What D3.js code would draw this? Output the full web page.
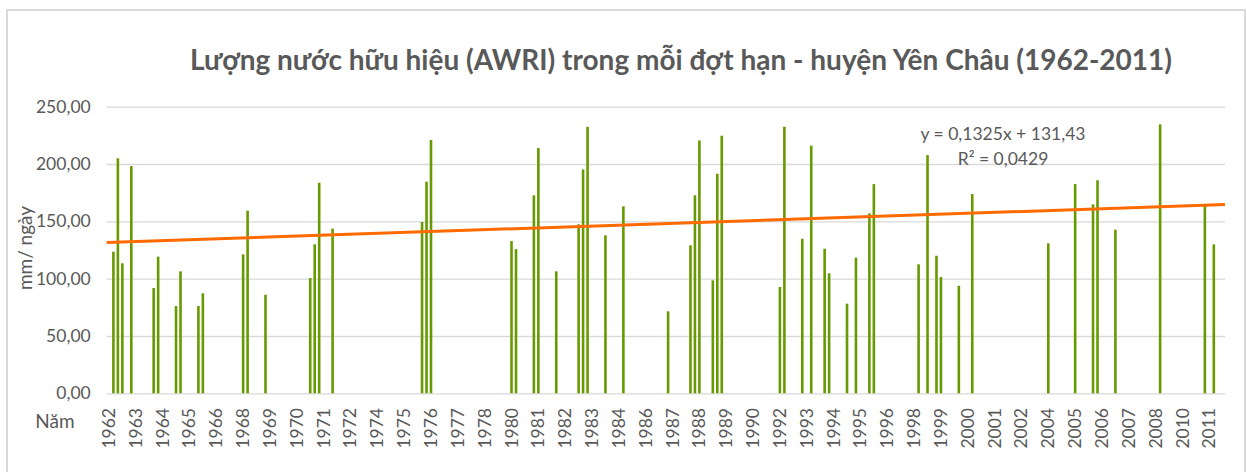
<!DOCTYPE html>
<html>
<head>
<meta charset="utf-8">
<script src="https://cdn.jsdelivr.net/npm/d3@7"></script>
<style>
  body { margin: 0; background: #fff; }
  text { font-family: Lato, "Open Sans", sans-serif; fill: #595959; }
</style>
</head>
<body>
<div id="chart"></div>
<script>
// x labels shown on the category axis (every 6th event)
var tickLabels = ["1962","1963","1964","1965","1966","1968","1969","1970","1971","1972",
  "1974","1975","1976","1977","1978","1980","1981","1982","1983","1984",
  "1986","1987","1988","1989","1990","1992","1993","1994","1995","1996",
  "1998","1999","2000","2001","2002","2004","2005","2006","2007","2008",
  "2010","2011"];
var categoryCount = 250;
var labelStep = 6;

// drought events: category number and AWRI value (mm/ngày)
var eventIndex = [2,3,4,6,11,12,16,17,21,22,31,32,36,46,47,48,51,71,72,73,
  91,92,96,97,101,106,107,108,112,116,126,131,132,133,136,137,138,151,152,156,
  158,161,162,166,168,171,172,182,184,186,187,191,194,211,217,221,222,226,236,246,248];
var awri = [123.5,205,113.4,198.2,91.8,119.2,76.1,106.4,76.1,87.2,121.2,159.3,86,100.5,130,183.7,143.6,149.4,184.6,220.9,
  132.8,125.8,172.7,213.9,106.4,147.4,195.3,232.5,137.8,163.1,71.5,129.1,172.7,220.6,98.5,191.5,224.7,92.7,232.5,134.8,
  216,126.1,104.6,78.2,118.3,157,182.5,112.5,207.8,120,101.4,93.8,173.8,130.8,182.5,164.8,185.8,142.7,234.6,163.6,129.9];

var yTicks = [0, 50, 100, 150, 200, 250];
var trendSlope = 0.1325, trendIntercept = 131.43;

var width = 1247, height = 472;
var svg = d3.select("#chart").append("svg")
  .attr("width", width)
  .attr("height", height);

// chart frame
svg.append("rect")
  .attr("x", 7).attr("y", 10)
  .attr("width", 1238).attr("height", 470)
  .attr("fill", "#fff")
  .attr("stroke", "#d9d9d9")
  .attr("stroke-width", 2);

var plotLeft = 106.7, plotRight = 1225, plotTop = 106.7, plotBottom = 393.3;

var categories = d3.range(1, categoryCount + 1);
var x = d3.scaleBand().domain(categories).range([plotLeft, plotRight]);
var xl = d3.scaleLinear().domain([0.5, categoryCount + 0.5]).range([plotLeft, plotRight]);
var y = d3.scaleLinear().domain([0, 250]).range([plotBottom, plotTop]);

// gridlines + y labels
var yAxis = d3.axisLeft(y)
  .tickValues(yTicks)
  .tickSize(-(plotRight - plotLeft))
  .tickPadding(16)
  .tickFormat(function(d) { return d3.format(".2f")(d).replace(".", ","); });

var gy = svg.append("g")
  .attr("transform", "translate(" + plotLeft + ",0)")
  .call(yAxis);
gy.select(".domain").remove();
gy.selectAll(".tick line").attr("stroke", "#d9d9d9").attr("stroke-width", 1.3);
gy.selectAll(".tick text").style("font-size", "17.5px").attr("fill", "#595959");

// x labels
var shown = tickLabels.map(function(t, k) { return { cat: 1 + k * labelStep, label: t }; });
svg.selectAll(".xlab")
  .data(shown)
  .enter().append("text")
  .attr("class", "xlab")
  .attr("transform", function(d) {
    return "translate(" + (x(d.cat) + x.bandwidth() / 2 + 6) + ",408) rotate(-90)";
  })
  .attr("text-anchor", "end")
  .style("font-size", "17.5px")
  .text(function(d) { return d.label; });

// bars
var events = eventIndex.map(function(c, k) { return { cat: c, v: awri[k] }; });
var barW = 2.6;
svg.selectAll(".bar")
  .data(events)
  .enter().append("rect")
  .attr("class", "bar")
  .attr("x", function(d) { return x(d.cat) + x.bandwidth() / 2 - barW / 2; })
  .attr("y", function(d) { return y(d.v); })
  .attr("width", barW)
  .attr("height", function(d) { return y(0) - y(d.v); })
  .attr("fill", "#679a00");

// linear trendline
var trendPts = [0.5, categoryCount + 0.5];
svg.append("path")
  .datum(trendPts)
  .attr("d", d3.line()
    .x(function(d) { return xl(d); })
    .y(function(d) { return y(trendIntercept + trendSlope * d); }))
  .attr("stroke", "#ff6a00")
  .attr("stroke-width", 3)
  .attr("fill", "none");

// equation
svg.append("text")
  .attr("x", 1003).attr("y", 140)
  .attr("text-anchor", "middle")
  .style("font-size", "17.5px")
  .text("y = 0,1325x + 131,43");
svg.append("text")
  .attr("x", 1003).attr("y", 165)
  .attr("text-anchor", "middle")
  .style("font-size", "17.5px")
  .text("R² = 0,0429");

// title
svg.append("text")
  .attr("x", 681).attr("y", 70)
  .attr("text-anchor", "middle")
  .style("font-size", "28px")
  .style("font-weight", "bold")
  .text("Lượng nước hữu hiệu (AWRI) trong mỗi đợt hạn - huyện Yên Châu (1962-2011)");

// axis titles
svg.append("text")
  .attr("transform", "translate(32,248) rotate(-90)")
  .attr("text-anchor", "middle")
  .style("font-size", "19px")
  .text("mm/ ngày");

svg.append("text")
  .attr("x", 55).attr("y", 428)
  .attr("text-anchor", "middle")
  .style("font-size", "19px")
  .text("Năm");
</script>
</body>
</html>
